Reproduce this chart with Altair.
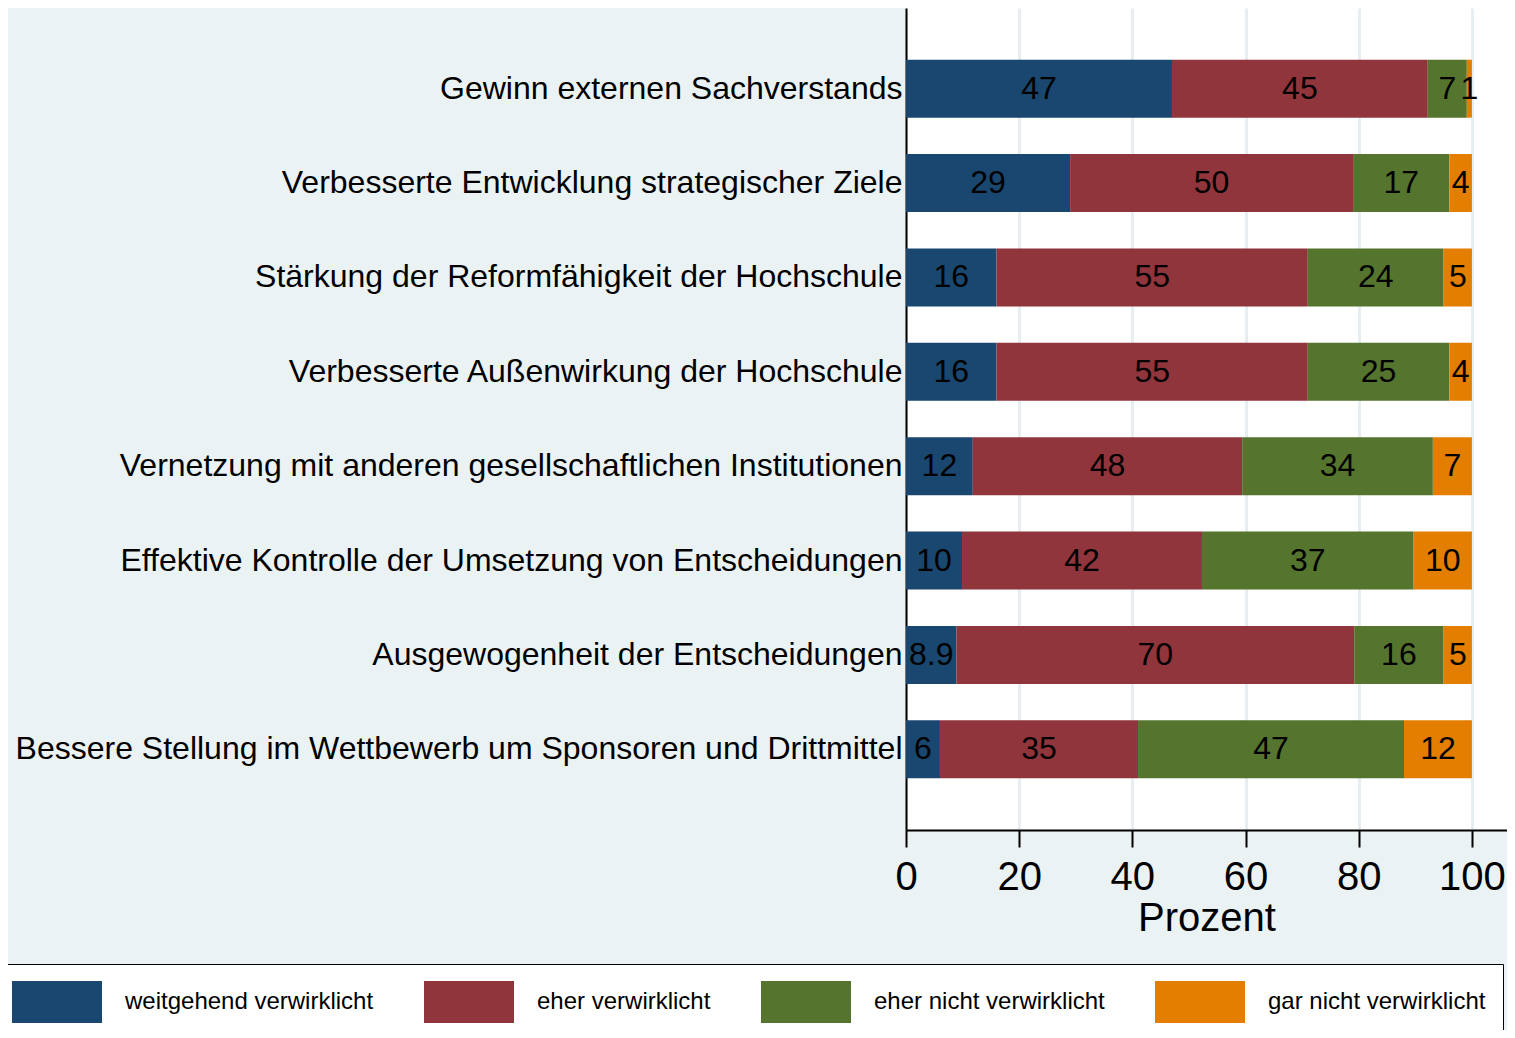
import altair as alt
import pandas as pd

items = [
    "Gewinn externen Sachverstands",
    "Verbesserte Entwicklung strategischer Ziele",
    "Stärkung der Reformfähigkeit der Hochschule",
    "Verbesserte Außenwirkung der Hochschule",
    "Vernetzung mit anderen gesellschaftlichen Institutionen",
    "Effektive Kontrolle der Umsetzung von Entscheidungen",
    "Ausgewogenheit der Entscheidungen",
    "Bessere Stellung im Wettbewerb um Sponsoren und Drittmittel",
]
series = [
    "weitgehend verwirklicht",
    "eher verwirklicht",
    "eher nicht verwirklicht",
    "gar nicht verwirklicht",
]
colors = ["#1a476f", "#90353b", "#55752f", "#e37e00"]

weit = [47.0, 29.0, 16.0, 16.0, 11.8, 9.9, 8.9, 6.0]
eher = [45.2, 50.0, 55.0, 55.0, 47.6, 42.4, 70.3, 35.0]
nicht = [6.9, 17.0, 24.0, 25.0, 33.7, 37.4, 15.8, 47.0]
gar = [0.9, 4.0, 5.0, 4.0, 6.9, 10.3, 5.0, 12.0]

weit_lab = ["47", "29", "16", "16", "12", "10", "8.9", "6"]
eher_lab = ["45", "50", "55", "55", "48", "42", "70", "35"]
nicht_lab = ["7", "17", "24", "25", "34", "37", "16", "47"]
gar_lab = ["1", "4", "5", "4", "7", "10", "5", "12"]

x_ticks = [0, 20, 40, 60, 80, 100]

rows = []
for s_i, (name, vals, labs) in enumerate(
    zip(series, [weit, eher, nicht, gar], [weit_lab, eher_lab, nicht_lab, gar_lab])
):
    for it, v, l in zip(items, vals, labs):
        rows.append({"item": it, "series": name, "order": s_i, "value": v, "label": l})
df = pd.DataFrame(rows)

FONT = "Liberation Sans"

base = (
    alt.Chart(df)
    .transform_stack(
        stack="value",
        as_=["x0", "x1"],
        groupby=["item"],
        sort=[alt.SortField("order", order="ascending")],
    )
    .transform_calculate(mid="(datum.x0 + datum.x1) / 2")
)

xscale = alt.Scale(domain=[0, 106.2], nice=False, zero=True)
yscale = alt.Scale(paddingInner=0.386, paddingOuter=0.548)

bars = base.mark_bar().encode(
    x=alt.X(
        "x0:Q",
        scale=xscale,
        axis=alt.Axis(
            values=x_ticks,
            title="Prozent",
            titleFontSize=40,
            titleFontWeight="normal",
            titleColor="black",
            titlePadding=1,
            labelFontSize=40,
            labelColor="black",
            labelPadding=10,
            labelFlush=False,
            tickSize=17,
            tickWidth=2,
            tickColor="black",
            domainColor="black",
            domainWidth=2,
            grid=True,
            gridColor="#e6eef1",
            gridWidth=3,
        ),
    ),
    x2="x1:Q",
    y=alt.Y(
        "item:N",
        sort=items,
        scale=yscale,
        axis=alt.Axis(
            title=None,
            ticks=False,
            labelFontSize=32,
            labelColor="black",
            labelPadding=4,
            labelLimit=2000,
            domainColor="black",
            domainWidth=2,
            grid=False,
        ),
    ),
    color=alt.Color(
        "series:N",
        sort=series,
        scale=alt.Scale(domain=series, range=colors),
        legend=alt.Legend(
            title=None,
            orient="none",
            legendX=-911,
            legendY=956,
            direction="horizontal",
            columns=4,
            symbolType="M-2.1429,-1H2.1429V1H-2.1429Z",
            symbolSize=1764,
            symbolOffset=24,
            symbolStrokeWidth=0,
            symbolOpacity=1,
            labelFontSize=24,
            labelColor="black",
            labelOffset=47,
            labelLimit=600,
            columnPadding=49,
            padding=17,
            fillColor="white",
            strokeColor="black",
        ),
    ),
)

text = base.mark_text(fontSize=32, color="black", font=FONT).encode(
    x=alt.X("mid:Q", scale=xscale),
    y=alt.Y("item:N", sort=items, scale=yscale),
    text="label:N",
)

chart = (
    alt.layer(bars, text)
    .properties(
        width=601,
        height=822,
        autosize="none",
        padding={"left": 898, "top": 0, "right": 0, "bottom": 200},
        background="#eaf2f3",
        view=alt.ViewBackground(fill="white", strokeWidth=0),
    )
    .configure_view(fill="white", strokeWidth=0)
    .configure_legend(strokeWidth=2)
    .configure(font=FONT)
)

chart.save("out.html", embed_options={"renderer": "svg", "actions": False})
